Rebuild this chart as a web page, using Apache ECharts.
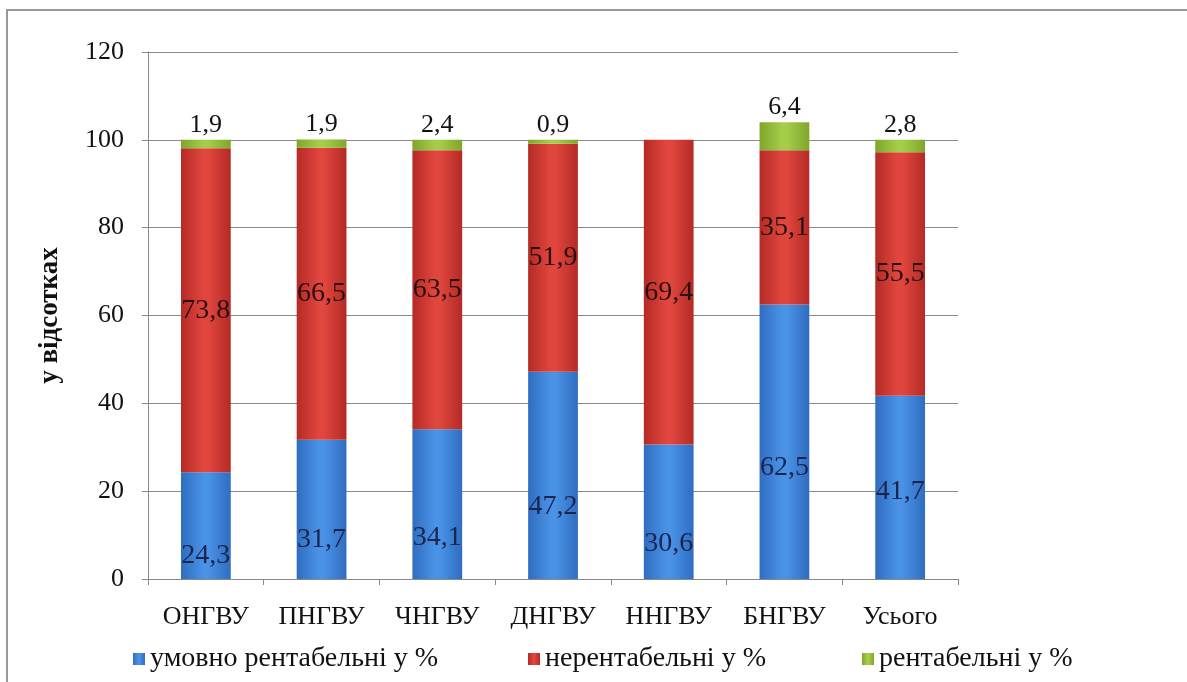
<!DOCTYPE html>
<html><head><meta charset="utf-8">
<script src="https://cdn.jsdelivr.net/npm/echarts@6/dist/echarts.min.js"></script>
<style>html,body{margin:0;padding:0;background:#fff}#c{width:1187px;height:682px}</style>
</head><body><div id="c"></div>
<script>
const categories = ['ОНГВУ','ПНГВУ','ЧНГВУ','ДНГВУ','ННГВУ','БНГВУ','Усього'];
const seriesNames = ['умовно рентабельні у %','нерентабельні у %','рентабельні у %'];
const conditional = [24.3, 31.7, 34.1, 47.2, 30.6, 62.5, 41.7];
const unprofitable = [73.8, 66.5, 63.5, 51.9, 69.4, 35.1, 55.5];
const profitable = [1.9, 1.9, 2.4, 0.9, null, 6.4, 2.8];
const yTicks = [0, 20, 40, 60, 80, 100, 120];

// label vertical shifts (style only) for the blue segment labels, as placed in the original
const blueLabelShift = [30, 30, 34, 31, 32, 26, 4];
const legendLeft = [128, 523, 857];

const FONT = '"Liberation Serif", "DejaVu Serif", serif';
function grad(c1, c2){
  return new echarts.graphic.LinearGradient(0,0,1,0,[
    {offset:0,color:c1},{offset:0.45,color:c2},{offset:0.55,color:c2},{offset:1,color:c1}]);
}
const fmt = p => p.value == null ? '' : String(p.value).replace('.', ',');
const chart = echarts.init(document.getElementById('c'));
chart.setOption({
  animation:false,
  graphic:[{type:'rect',shape:{x:7,y:10,width:1300,height:800},style:{fill:'none',stroke:'#999',lineWidth:2},silent:true}],
  grid:{left:148,right:229,top:52,bottom:103},
  legend: seriesNames.map((n,i)=>({bottom:4,left:legendLeft[i],itemWidth:12,itemHeight:12,icon:'rect',itemGap:4,
    textStyle:{fontFamily:FONT,fontSize:28,color:'#111'},data:[n]})),
  xAxis:{type:'category',data:categories,
    axisLine:{lineStyle:{color:'#888'}},axisTick:{show:true,length:6,lineStyle:{color:'#888'}},
    axisLabel:{fontFamily:FONT,fontSize:26,color:'#111',margin:25}},
  yAxis:{type:'value',min:yTicks[0],max:yTicks[yTicks.length-1],interval:20,
    name:'у відсотках',nameLocation:'middle',nameGap:84,
    nameTextStyle:{fontFamily:FONT,fontSize:27,fontWeight:'bold',color:'#111'},
    axisLine:{show:true,lineStyle:{color:'#888'}},axisTick:{show:true,length:6,lineStyle:{color:'#888'}},
    axisLabel:{fontFamily:FONT,fontSize:26,color:'#111',margin:24},
    splitLine:{lineStyle:{color:'#8a8a8a'}}},
  series:[
    {name:seriesNames[0],type:'bar',stack:'a',barWidth:'43%',
     data:conditional.map((v,i)=>({value:v,label:{offset:[0,blueLabelShift[i]]}})),
     itemStyle:{color:grad('#2f6dc0','#4a92e6')},
     label:{show:true,position:'inside',formatter:fmt,fontFamily:FONT,fontSize:28,color:'#1a2550'}},
    {name:seriesNames[1],type:'bar',stack:'a',data:unprofitable,
     itemStyle:{color:grad('#b52a25','#e0463e')},
     label:{show:true,position:'inside',formatter:fmt,fontFamily:FONT,fontSize:28,color:'#2a1010'}},
    {name:seriesNames[2],type:'bar',stack:'a',data:profitable,
     itemStyle:{color:grad('#7fa52a','#a5cd4a')},
     label:{show:true,position:'top',distance:2,formatter:fmt,fontFamily:FONT,fontSize:26,color:'#111'}}
  ]
});
</script></body></html>
